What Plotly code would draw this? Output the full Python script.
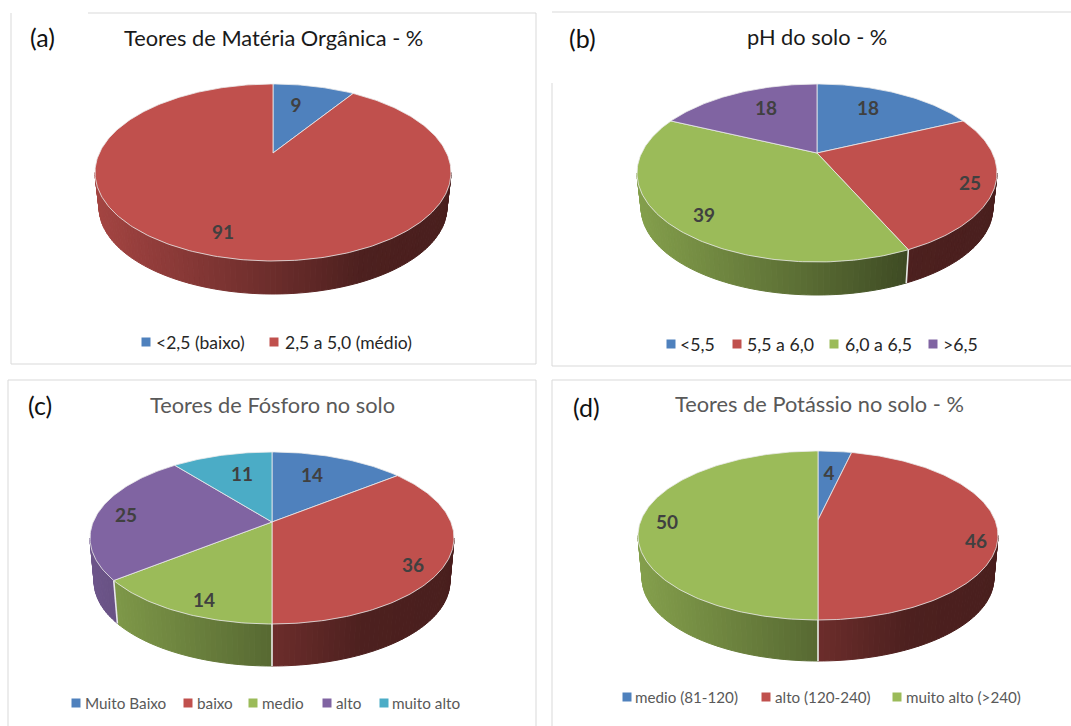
import numpy as np
import plotly.graph_objects as go

# ---------- data ----------
a_categories = ["<2,5 (baixo)", "2,5 a 5,0 (médio)"]
a_values = [9.2, 90.8]
b_categories = ["<5,5", "5,5 a 6,0", "6,0 a 6,5", ">6,5"]
b_values = [18.2, 25, 38.6, 18.2]
c_categories = ["Muito Baixo", "baixo", "medio", "alto", "muito alto"]
c_values = [14.3, 35.7, 14.3, 25, 10.7]
d_categories = ["medio (81-120)", "alto (120-240)", "muito alto (>240)"]
d_values = [3.6, 46.4, 50]

# ---------- styling / layout ----------
BLUE, RED, GREEN, PURPLE, TEAL = "#4F81BD", "#C0504D", "#9BBB59", "#8064A2", "#4BACC6"
a_colors = [BLUE, RED]
b_colors = [BLUE, RED, GREEN, PURPLE]
c_colors = [BLUE, RED, GREEN, PURPLE, TEAL]
d_colors = [BLUE, RED, GREEN]
FONT = "Lato"

panels = [
    dict(values=a_values, cats=a_categories, colors=a_colors, apex=(273, 153), title="Teores de Matéria Orgânica - %",
         title_xy=(273, 37), title_color="#1a1a1a", tag="(a)", tag_xy=(42, 37),
         labels=[(296, 107), (223, 234)], leg_y=342, leg_x=[(146, 154), (274, 283)], leg_size=17.5, leg_color="#262626",
         top=84, bottom=261, rx=178, depth=33),
    dict(values=b_values, cats=b_categories, colors=b_colors, apex=(817, 153), title="pH do solo - %",
         title_xy=(817, 36), title_color="#1a1a1a", tag="(b)", tag_xy=(582, 38),
         labels=[(868, 110), (970, 185), (704, 217), (766, 110)], leg_y=344,
         leg_x=[(671, 678), (737, 745), (834, 843), (933, 941)], leg_size=17.7, leg_color="#262626",
         top=84, bottom=262, rx=180, depth=33),
    dict(values=c_values, cats=c_categories, colors=c_colors, apex=(272, 522), title="Teores de Fósforo no solo",
         title_xy=(272, 404), title_color="#595959", tag="(c)", tag_xy=(40, 405),
         labels=[(312, 477), (413, 567), (204, 602), (126, 517), (242, 476)], leg_y=703,
         leg_x=[(76, 83), (188, 195), (253, 260), (327, 334), (384, 390)], leg_size=15.3, leg_color="#595959",
         top=452, bottom=624, rx=182, depth=42),
    dict(values=d_values, cats=d_categories, colors=d_colors, apex=(818, 520), title="Teores de Potássio no solo - %",
         title_xy=(819, 403), title_color="#595959", tag="(d)", tag_xy=(586, 407),
         labels=[(829, 475), (976, 543), (667, 524)], leg_y=697,
         leg_x=[(627, 633), (766, 773), (897, 904)], leg_size=15.2, leg_color="#595959",
         top=451, bottom=620, rx=180, depth=41),
]

borders = [
    [(88, 13), (536, 13), (536, 364), (11, 364), (11, 13)],
    [(552, 12), (1071, 12)],
    [(552, 83), (552, 366), (1071, 366)],
    [(8, 726), (8, 380), (536, 380), (536, 726)],
    [(552, 726), (552, 380), (1071, 380)],
]

fig = go.Figure()


def hex_rgb(c):
    return np.array([int(c[i:i + 2], 16) for i in (1, 3, 5)], float)


def add_poly(xs, ys, color, line=None, width=1):
    fig.add_trace(go.Scatter(x=xs, y=ys, mode="lines", fill="toself", fillcolor=color,
                             line=dict(color=line or color, width=width), hoverinfo="skip", showlegend=False))


def projector(p, scale=1.0, dy=0.0):
    cx, cy = p["apex"]
    t, bt = cy - p["top"], p["bottom"] - cy
    k = (bt - t) / (bt + t)
    b = t * (1 + k)
    a = p["rx"] * np.sqrt(1 - k * k)

    def proj(theta):
        u, v = np.sin(theta), np.cos(theta)
        w = 1 + k * v
        return cx + scale * a * u / w, cy + dy - scale * b * v / w

    return proj, k


def draw_pie(p):
    top, k = projector(p)
    s = 0.977
    bt = p["bottom"] - p["apex"][1]
    low, _ = projector(p, s, p["depth"] + bt * (1 - s))
    vals = np.array(p["values"], float)
    edges = np.concatenate([[0], np.cumsum(vals)]) / vals.sum() * 2 * np.pi
    tfront = np.arccos(-k)
    x0, width = p["apex"][0] - p["rx"], 2 * p["rx"]
    # side wall: vertical strips shaded from left to right
    for i, col in enumerate(p["colors"]):
        lo, hi = max(edges[i], tfront), min(edges[i + 1], 2 * np.pi - tfront)
        if hi <= lo:
            continue
        n = max(2, int((hi - lo) / np.radians(1.5)))
        th = np.linspace(lo, hi, n + 1)
        base = hex_rgb(col)
        for t0, t1 in zip(th[:-1], th[1:]):
            xt0, yt0 = top(t0)
            xt1, yt1 = top(t1)
            xb0, yb0 = low(t0)
            xb1, yb1 = low(t1)
            pos = ((xt0 + xt1) / 2 - x0) / width
            f = np.interp(pos, [0, 0.5, 0.75, 1], [0.85, 0.56, 0.40, 0.38])
            c = base * f
            add_poly([xt0, xt1, xb1, xb0, xt0], [yt0, yt1, yb1, yb0, yt0],
                     f"rgb({c[0]:.0f},{c[1]:.0f},{c[2]:.0f})")
    # wall edges between slices
    for e in edges[1:-1]:
        if tfront < e < 2 * np.pi - tfront:
            xt, yt = top(e)
            xb, yb = low(e)
            xt, yt, xb, yb = (round(float(q), 2) for q in (xt, yt, xb, yb))
            fig.add_trace(go.Scatter(x=[xt, (xt + xb) / 2, xb], y=[yt, (yt + yb) / 2, yb], mode="lines",
                                     line=dict(color="rgba(240,240,240,0.95)", width=1.6),
                                     hoverinfo="skip", showlegend=False))
    # top face
    for i, col in enumerate(p["colors"]):
        n = max(4, int((edges[i + 1] - edges[i]) / np.radians(1)))
        th = np.linspace(edges[i], edges[i + 1], n + 1)
        xs, ys = top(th)
        cx, cy = p["apex"]
        add_poly([cx, *xs, cx], [cy, *ys, cy], col, line="rgba(235,235,235,0.8)", width=1)
    # slice labels
    xs = [q[0] for q in p["labels"]]
    ys = [q[1] for q in p["labels"]]
    fig.add_trace(go.Scatter(x=xs, y=ys, mode="text", text=[str(round(v)) for v in p["values"]],
                             textposition="middle center",
                             textfont=dict(family=FONT, size=19, color="#404040", weight="bold"),
                             hoverinfo="skip", showlegend=False))
    # title and panel tag
    fig.add_annotation(x=p["title_xy"][0], y=p["title_xy"][1], text=p["title"], showarrow=False,
                       font=dict(family=FONT, size=21.8, color=p["title_color"]), xanchor="center", yanchor="middle")
    fig.add_annotation(x=p["tag_xy"][0], y=p["tag_xy"][1], text=p["tag"], showarrow=False,
                       font=dict(family=FONT, size=25, color="#111111"), xanchor="center", yanchor="middle")
    # legend
    for (mx, tx), cat, col in zip(p["leg_x"], p["cats"], p["colors"]):
        fig.add_trace(go.Scatter(x=[mx], y=[p["leg_y"]], mode="markers",
                                 marker=dict(symbol="square", size=9, color=col),
                                 hoverinfo="skip", showlegend=False))
        fig.add_annotation(x=tx, y=p["leg_y"], text=cat, showarrow=False,
                           font=dict(family=FONT, size=p["leg_size"], color=p["leg_color"]),
                           xanchor="left", yanchor="middle")


for border in borders:
    bx, by = zip(*border)
    fig.add_trace(go.Scatter(x=bx, y=by, mode="lines", line=dict(color="#D9D9D9", width=1),
                             hoverinfo="skip", showlegend=False))
for panel in panels:
    draw_pie(panel)

fig.update_layout(width=1071, height=726, margin=dict(l=0, r=0, t=0, b=0), showlegend=False,
                  paper_bgcolor="white", plot_bgcolor="white",
                  xaxis=dict(range=[0, 1071], visible=False, fixedrange=True),
                  yaxis=dict(range=[726, 0], visible=False, fixedrange=True))
fig.write_html("out.html", config=dict(displayModeBar=False),
               post_script="document.body.style.margin='0';document.documentElement.style.overflow='hidden';")
